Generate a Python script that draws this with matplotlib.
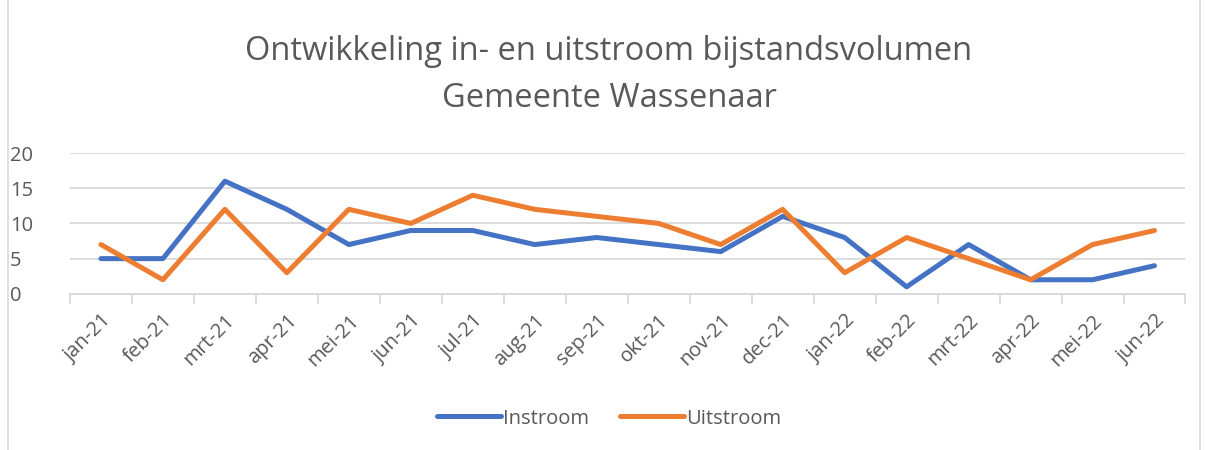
import numpy as np
import matplotlib
matplotlib.use('Agg')
import matplotlib.pyplot as plt
from matplotlib.patches import Rectangle

months = ['jan-21', 'feb-21', 'mrt-21', 'apr-21', 'mei-21', 'jun-21', 'jul-21',
          'aug-21', 'sep-21', 'okt-21', 'nov-21', 'dec-21', 'jan-22', 'feb-22',
          'mrt-22', 'apr-22', 'mei-22', 'jun-22']
instroom = [5, 5, 16, 12, 7, 9, 9, 7, 8, 7, 6, 11, 8, 1, 7, 2, 2, 4]
uitstroom = [7, 2, 12, 3, 12, 10, 14, 12, 11, 10, 7, 12, 3, 8, 5, 2, 7, 9]

TXT = '#595959'
GRID = '#d9d9d9'

plt.rcParams['font.family'] = ['Open Sans', 'DejaVu Sans']

fig = plt.figure(figsize=(12.06, 4.5), dpi=100)
ax = fig.add_axes([0.058, 0.347, 0.925, 0.313])

x = np.arange(len(months))
ax.plot(x, instroom, color='#4472c4', lw=3.6, label='Instroom', solid_capstyle='round')
ax.plot(x, uitstroom, color='#ed7d31', lw=3.6, label='Uitstroom', solid_capstyle='round')

ax.set_xlim(-0.5, len(months) - 0.5)
ax.set_ylim(0, 20)
ax.set_yticks([0, 5, 10, 15, 20])
ax.yaxis.grid(True, color=GRID, lw=1.3)
ax.set_axisbelow(True)
for s in ['top', 'right', 'left']:
    ax.spines[s].set_visible(False)
ax.spines['bottom'].set_color(GRID)
ax.spines['bottom'].set_linewidth(1.3)

ax.set_xticks(np.arange(len(months) + 1) - 0.5)
ax.set_xticklabels([])
ax.set_xticks(x, minor=True)
ax.set_xticklabels(months, minor=True, rotation=45, ha='right', va='top',
                   rotation_mode='anchor', fontsize=14.5, color=TXT)
ax.tick_params(axis='x', which='major', length=7, color=GRID, width=1.3)
ax.tick_params(axis='x', which='minor', length=0, pad=12)
ax.tick_params(axis='y', length=0, labelsize=14.5, labelcolor=TXT, pad=43)
for lbl in ax.get_yticklabels():
    lbl.set_ha('left')

fig.text(0.505, 0.885, 'Ontwikkeling in- en uitstroom bijstandsvolumen',
         ha='center', va='center', fontsize=23.5, color=TXT)
fig.text(0.505, 0.782, 'Gemeente Wassenaar',
         ha='center', va='center', fontsize=23.5, color=TXT)

fig.legend(loc='center', bbox_to_anchor=(0.505, 0.07), ncol=2, frameon=False,
           fontsize=14.5, labelcolor=TXT, handlelength=3.2, columnspacing=1.5,
           handletextpad=0.1)

fig.patches.append(Rectangle((0.007, -0.01), 0.988, 1.02, transform=fig.transFigure,
                             fill=False, edgecolor=GRID, lw=1.2))

fig.savefig('out.png', dpi=100)
